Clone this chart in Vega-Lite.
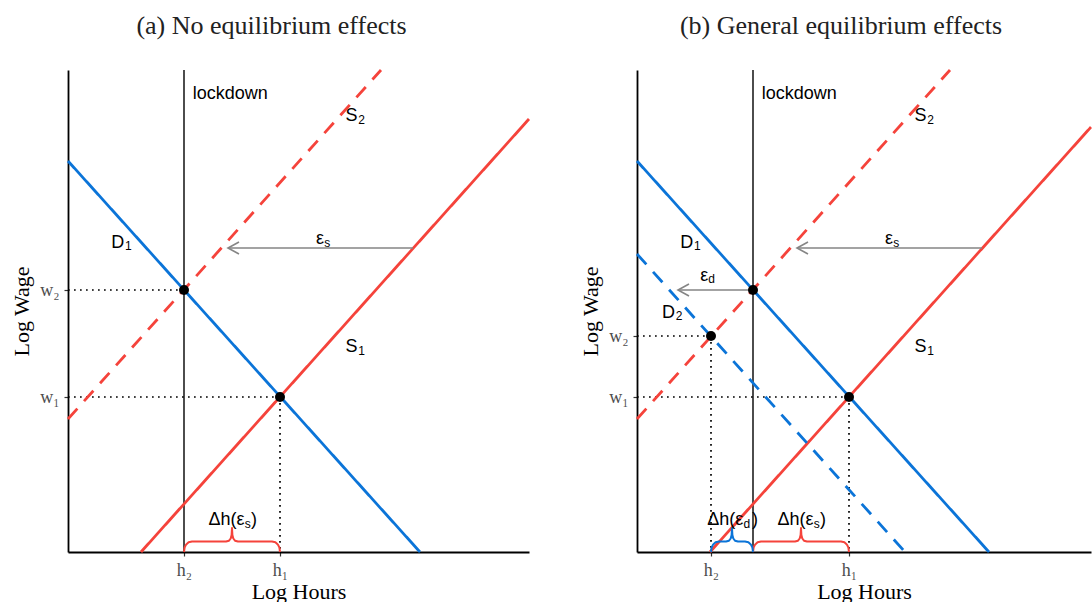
{
  "$schema": "https://vega.github.io/schema/vega-lite/v6.json",
  "padding": {"left": 10, "top": 13, "right": 0, "bottom": 0},
  "background": "white",
  "datasets": {
    "curves": [
      {"panel": "a", "id": "D1", "kind": "demand", "phase": "pre", "x": 0, "y": 391},
      {"panel": "a", "id": "D1", "kind": "demand", "phase": "pre", "x": 352, "y": 0},
      {"panel": "a", "id": "S1", "kind": "supply", "phase": "pre", "x": 73, "y": 0},
      {"panel": "a", "id": "S1", "kind": "supply", "phase": "pre", "x": 461, "y": 433},
      {"panel": "a", "id": "S2", "kind": "supply", "phase": "post", "x": 0, "y": 133},
      {"panel": "a", "id": "S2", "kind": "supply", "phase": "post", "x": 313, "y": 482},
      {"panel": "b", "id": "D1", "kind": "demand", "phase": "pre", "x": 0, "y": 391},
      {"panel": "b", "id": "D1", "kind": "demand", "phase": "pre", "x": 352, "y": 0},
      {"panel": "b", "id": "S1", "kind": "supply", "phase": "pre", "x": 73, "y": 0},
      {"panel": "b", "id": "S1", "kind": "supply", "phase": "pre", "x": 454, "y": 425},
      {"panel": "b", "id": "S2", "kind": "supply", "phase": "post", "x": 0, "y": 133},
      {"panel": "b", "id": "S2", "kind": "supply", "phase": "post", "x": 313, "y": 482},
      {"panel": "b", "id": "D2", "kind": "demand", "phase": "post", "x": 0, "y": 298},
      {"panel": "b", "id": "D2", "kind": "demand", "phase": "post", "x": 268, "y": 0}
    ],
    "dotted": [
      {"panel": "a", "id": "w2", "x": 0, "y": 262},
      {"panel": "a", "id": "w2", "x": 116, "y": 262},
      {"panel": "a", "id": "w1", "x": 0, "y": 155},
      {"panel": "a", "id": "w1", "x": 212, "y": 155},
      {"panel": "a", "id": "h1", "x": 212, "y": 155},
      {"panel": "a", "id": "h1", "x": 212, "y": 0},
      {"panel": "b", "id": "w2", "x": 0, "y": 216},
      {"panel": "b", "id": "w2", "x": 74, "y": 216},
      {"panel": "b", "id": "h2", "x": 74, "y": 216},
      {"panel": "b", "id": "h2", "x": 74, "y": 0},
      {"panel": "b", "id": "w1", "x": 0, "y": 155},
      {"panel": "b", "id": "w1", "x": 212, "y": 155},
      {"panel": "b", "id": "h1", "x": 212, "y": 155},
      {"panel": "b", "id": "h1", "x": 212, "y": 0}
    ],
    "lockdown": [
      {"panel": "a", "x": 116, "y": 0, "y2": 482},
      {"panel": "b", "x": 116, "y": 0, "y2": 482}
    ],
    "points": [
      {"panel": "a", "x": 116, "y": 262},
      {"panel": "a", "x": 212, "y": 155},
      {"panel": "b", "x": 116, "y": 262},
      {"panel": "b", "x": 74, "y": 216},
      {"panel": "b", "x": 212, "y": 155}
    ],
    "arrows": [
      {"panel": "a", "id": "es", "x": 345, "y": 304},
      {"panel": "a", "id": "es", "x": 160, "y": 304},
      {"panel": "b", "id": "es", "x": 345, "y": 304},
      {"panel": "b", "id": "es", "x": 160, "y": 304},
      {"panel": "b", "id": "ed", "x": 116, "y": 262},
      {"panel": "b", "id": "ed", "x": 41, "y": 262}
    ],
    "heads": [
      {"panel": "a", "x": 160, "y": 304},
      {"panel": "b", "x": 160, "y": 304},
      {"panel": "b", "x": 41, "y": 262}
    ],
    "braces": [
      {"panel": "a", "id": "s", "kind": "supply", "i": 0, "x": 116, "y": 0},
      {"panel": "a", "id": "s", "kind": "supply", "i": 1, "x": 116.6, "y": 4.5},
      {"panel": "a", "id": "s", "kind": "supply", "i": 2, "x": 118.2, "y": 7.6},
      {"panel": "a", "id": "s", "kind": "supply", "i": 3, "x": 120.6, "y": 9.8},
      {"panel": "a", "id": "s", "kind": "supply", "i": 4, "x": 124, "y": 10.5},
      {"panel": "a", "id": "s", "kind": "supply", "i": 5, "x": 158, "y": 10.5},
      {"panel": "a", "id": "s", "kind": "supply", "i": 6, "x": 161, "y": 11.3},
      {"panel": "a", "id": "s", "kind": "supply", "i": 7, "x": 162.7, "y": 13.5},
      {"panel": "a", "id": "s", "kind": "supply", "i": 8, "x": 163.6, "y": 17},
      {"panel": "a", "id": "s", "kind": "supply", "i": 9, "x": 164, "y": 24},
      {"panel": "a", "id": "s", "kind": "supply", "i": 10, "x": 164.4, "y": 17},
      {"panel": "a", "id": "s", "kind": "supply", "i": 11, "x": 165.3, "y": 13.5},
      {"panel": "a", "id": "s", "kind": "supply", "i": 12, "x": 167, "y": 11.3},
      {"panel": "a", "id": "s", "kind": "supply", "i": 13, "x": 170, "y": 10.5},
      {"panel": "a", "id": "s", "kind": "supply", "i": 14, "x": 204, "y": 10.5},
      {"panel": "a", "id": "s", "kind": "supply", "i": 15, "x": 207.4, "y": 9.8},
      {"panel": "a", "id": "s", "kind": "supply", "i": 16, "x": 209.8, "y": 7.6},
      {"panel": "a", "id": "s", "kind": "supply", "i": 17, "x": 211.4, "y": 4.5},
      {"panel": "a", "id": "s", "kind": "supply", "i": 18, "x": 212, "y": 0},
      {"panel": "b", "id": "s", "kind": "supply", "i": 0, "x": 116, "y": 0},
      {"panel": "b", "id": "s", "kind": "supply", "i": 1, "x": 116.6, "y": 4.5},
      {"panel": "b", "id": "s", "kind": "supply", "i": 2, "x": 118.2, "y": 7.6},
      {"panel": "b", "id": "s", "kind": "supply", "i": 3, "x": 120.6, "y": 9.8},
      {"panel": "b", "id": "s", "kind": "supply", "i": 4, "x": 124, "y": 10.5},
      {"panel": "b", "id": "s", "kind": "supply", "i": 5, "x": 158, "y": 10.5},
      {"panel": "b", "id": "s", "kind": "supply", "i": 6, "x": 161, "y": 11.3},
      {"panel": "b", "id": "s", "kind": "supply", "i": 7, "x": 162.7, "y": 13.5},
      {"panel": "b", "id": "s", "kind": "supply", "i": 8, "x": 163.6, "y": 17},
      {"panel": "b", "id": "s", "kind": "supply", "i": 9, "x": 164, "y": 24},
      {"panel": "b", "id": "s", "kind": "supply", "i": 10, "x": 164.4, "y": 17},
      {"panel": "b", "id": "s", "kind": "supply", "i": 11, "x": 165.3, "y": 13.5},
      {"panel": "b", "id": "s", "kind": "supply", "i": 12, "x": 167, "y": 11.3},
      {"panel": "b", "id": "s", "kind": "supply", "i": 13, "x": 170, "y": 10.5},
      {"panel": "b", "id": "s", "kind": "supply", "i": 14, "x": 204, "y": 10.5},
      {"panel": "b", "id": "s", "kind": "supply", "i": 15, "x": 207.4, "y": 9.8},
      {"panel": "b", "id": "s", "kind": "supply", "i": 16, "x": 209.8, "y": 7.6},
      {"panel": "b", "id": "s", "kind": "supply", "i": 17, "x": 211.4, "y": 4.5},
      {"panel": "b", "id": "s", "kind": "supply", "i": 18, "x": 212, "y": 0},
      {"panel": "b", "id": "d", "kind": "demand", "i": 0, "x": 74, "y": 0},
      {"panel": "b", "id": "d", "kind": "demand", "i": 1, "x": 74.6, "y": 4.5},
      {"panel": "b", "id": "d", "kind": "demand", "i": 2, "x": 76.2, "y": 7.6},
      {"panel": "b", "id": "d", "kind": "demand", "i": 3, "x": 78.6, "y": 9.8},
      {"panel": "b", "id": "d", "kind": "demand", "i": 4, "x": 82, "y": 10.5},
      {"panel": "b", "id": "d", "kind": "demand", "i": 5, "x": 89, "y": 10.5},
      {"panel": "b", "id": "d", "kind": "demand", "i": 6, "x": 92, "y": 11.3},
      {"panel": "b", "id": "d", "kind": "demand", "i": 7, "x": 93.7, "y": 13.5},
      {"panel": "b", "id": "d", "kind": "demand", "i": 8, "x": 94.6, "y": 17},
      {"panel": "b", "id": "d", "kind": "demand", "i": 9, "x": 95, "y": 24},
      {"panel": "b", "id": "d", "kind": "demand", "i": 10, "x": 95.4, "y": 17},
      {"panel": "b", "id": "d", "kind": "demand", "i": 11, "x": 96.3, "y": 13.5},
      {"panel": "b", "id": "d", "kind": "demand", "i": 12, "x": 98, "y": 11.3},
      {"panel": "b", "id": "d", "kind": "demand", "i": 13, "x": 101, "y": 10.5},
      {"panel": "b", "id": "d", "kind": "demand", "i": 14, "x": 108, "y": 10.5},
      {"panel": "b", "id": "d", "kind": "demand", "i": 15, "x": 111.4, "y": 9.8},
      {"panel": "b", "id": "d", "kind": "demand", "i": 16, "x": 113.8, "y": 7.6},
      {"panel": "b", "id": "d", "kind": "demand", "i": 17, "x": 115.4, "y": 4.5},
      {"panel": "b", "id": "d", "kind": "demand", "i": 18, "x": 116, "y": 0}
    ],
    "labels": [
      {"panel": "a", "role": "tail", "x": 124.7, "y": 452.7, "text": "lockdown"},
      {"panel": "a", "role": "base", "x": 289.5, "y": 431, "text": "S"},
      {"panel": "a", "role": "sub", "x": 290.3, "y": 427.7, "text": "2"},
      {"panel": "a", "role": "base", "x": 289.5, "y": 200, "text": "S"},
      {"panel": "a", "role": "sub", "x": 290.3, "y": 197, "text": "1"},
      {"panel": "a", "role": "base", "x": 56.3, "y": 304.3, "text": "D"},
      {"panel": "a", "role": "sub", "x": 57, "y": 302, "text": "1"},
      {"panel": "a", "role": "base", "x": 256, "y": 307.7, "text": "ε"},
      {"panel": "a", "role": "sub", "x": 256.3, "y": 305.3, "text": "s"},
      {"panel": "a", "role": "base", "x": 176.5, "y": 27.5, "text": "Δh(ε"},
      {"panel": "a", "role": "sub", "x": 176.8, "y": 24.5, "text": "s"},
      {"panel": "a", "role": "tail", "x": 183, "y": 27.5, "text": ")"},
      {"panel": "b", "role": "tail", "x": 124.7, "y": 452.7, "text": "lockdown"},
      {"panel": "b", "role": "base", "x": 289.5, "y": 431, "text": "S"},
      {"panel": "b", "role": "sub", "x": 290.3, "y": 427.7, "text": "2"},
      {"panel": "b", "role": "base", "x": 289.5, "y": 200, "text": "S"},
      {"panel": "b", "role": "sub", "x": 290.3, "y": 197, "text": "1"},
      {"panel": "b", "role": "base", "x": 56.3, "y": 304.3, "text": "D"},
      {"panel": "b", "role": "sub", "x": 57, "y": 302, "text": "1"},
      {"panel": "b", "role": "base", "x": 256, "y": 307.7, "text": "ε"},
      {"panel": "b", "role": "sub", "x": 256.3, "y": 305.3, "text": "s"},
      {"panel": "b", "role": "base", "x": 176.5, "y": 27.5, "text": "Δh(ε"},
      {"panel": "b", "role": "sub", "x": 176.8, "y": 24.5, "text": "s"},
      {"panel": "b", "role": "tail", "x": 183, "y": 27.5, "text": ")"},
      {"panel": "b", "role": "base", "x": 38, "y": 234.3, "text": "D"},
      {"panel": "b", "role": "sub", "x": 38.7, "y": 231.7, "text": "2"},
      {"panel": "b", "role": "base", "x": 71.3, "y": 271.5, "text": "ε"},
      {"panel": "b", "role": "sub", "x": 71.3, "y": 269.3, "text": "d"},
      {"panel": "b", "role": "base", "x": 106.3, "y": 27.5, "text": "Δh(ε"},
      {"panel": "b", "role": "sub", "x": 106.5, "y": 24.5, "text": "d"},
      {"panel": "b", "role": "tail", "x": 115, "y": 27.5, "text": ")"}
    ]
  },
  "hconcat": [
    {
      "width": 461,
      "height": 482,
      "title": {"text": "(a) No equilibrium effects", "dx": -27},
      "encoding": {
        "x": {"field": "x", "type": "quantitative", "scale": {"domain": [0, 461], "nice": false, "zero": false},
              "axis": {"title": "Log Hours", "values": [116, 212], "labelExpr": "datum.value == 116 ? 'h₂' : 'h₁'"}},
        "y": {"field": "y", "type": "quantitative", "scale": {"domain": [0, 482], "nice": false, "zero": false},
              "axis": {"title": "Log Wage", "values": [155, 262], "labelExpr": "datum.value == 262 ? 'w₂' : 'w₁'"}}
      },
      "layer": [
        {"data": {"name": "dotted"}, "transform": [{"filter": "datum.panel == 'a'"}],
         "mark": {"type": "line", "color": "black", "strokeWidth": 1.7, "strokeDash": [1.7, 4.3]},
         "encoding": {"detail": {"field": "id"}}},
        {"data": {"name": "lockdown"}, "transform": [{"filter": "datum.panel == 'a'"}],
         "mark": {"type": "rule", "color": "black", "strokeWidth": 1.4},
         "encoding": {"y2": {"field": "y2"}}},
        {"data": {"name": "curves"}, "transform": [{"filter": "datum.panel == 'a'"}],
         "mark": {"type": "line", "strokeWidth": 2.8},
         "encoding": {"detail": {"field": "id"},
                      "color": {"field": "kind", "type": "nominal", "scale": {"domain": ["demand", "supply"], "range": ["#0b74d8", "#f5433b"]}, "legend": null},
                      "strokeDash": {"field": "phase", "type": "nominal", "scale": {"domain": ["pre", "post"], "range": [[1, 0], [14, 10]]}, "legend": null}}},
        {"data": {"name": "braces"}, "transform": [{"filter": "datum.panel == 'a'"}],
         "mark": {"type": "line", "strokeWidth": 2, "strokeJoin": "round"},
         "encoding": {"detail": {"field": "id"}, "order": {"field": "i", "type": "quantitative"},
                      "color": {"field": "kind", "type": "nominal", "legend": null}}},
        {"data": {"name": "arrows"}, "transform": [{"filter": "datum.panel == 'a'"}],
         "mark": {"type": "line", "color": "#858585", "strokeWidth": 1.6},
         "encoding": {"detail": {"field": "id"}}},
        {"data": {"name": "heads"}, "transform": [{"filter": "datum.panel == 'a'"}],
         "mark": {"type": "point", "shape": "M1.1,-0.6L0,0L1.1,0.6", "size": 400, "filled": false, "color": "#858585", "strokeWidth": 1.6, "opacity": 1},
         "encoding": {}},
        {"data": {"name": "points"}, "transform": [{"filter": "datum.panel == 'a'"}],
         "mark": {"type": "circle", "color": "black", "size": 100, "opacity": 1},
         "encoding": {}},
        {"data": {"name": "labels"}, "transform": [{"filter": "datum.panel == 'a' && datum.role == 'base'"}],
         "mark": {"type": "text", "align": "right", "baseline": "alphabetic", "font": "Liberation Sans", "fontSize": 18, "color": "black"},
         "encoding": {"text": {"field": "text"}}},
        {"data": {"name": "labels"}, "transform": [{"filter": "datum.panel == 'a' && datum.role == 'sub'"}],
         "mark": {"type": "text", "align": "left", "baseline": "alphabetic", "font": "Liberation Sans", "fontSize": 12, "color": "black"},
         "encoding": {"text": {"field": "text"}}},
        {"data": {"name": "labels"}, "transform": [{"filter": "datum.panel == 'a' && datum.role == 'tail'"}],
         "mark": {"type": "text", "align": "left", "baseline": "alphabetic", "font": "Liberation Sans", "fontSize": 18, "color": "black"},
         "encoding": {"text": {"field": "text"}}}
      ]
    },
    {
      "width": 454,
      "height": 482,
      "title": {"text": "(b) General equilibrium effects", "dx": -23},
      "encoding": {
        "x": {"field": "x", "type": "quantitative", "scale": {"domain": [0, 454], "nice": false, "zero": false},
              "axis": {"title": "Log Hours", "values": [74, 212], "labelExpr": "datum.value == 74 ? 'h₂' : 'h₁'"}},
        "y": {"field": "y", "type": "quantitative", "scale": {"domain": [0, 482], "nice": false, "zero": false},
              "axis": {"title": "Log Wage", "values": [155, 216], "labelExpr": "datum.value == 216 ? 'w₂' : 'w₁'"}}
      },
      "layer": [
        {"data": {"name": "dotted"}, "transform": [{"filter": "datum.panel == 'b'"}],
         "mark": {"type": "line", "color": "black", "strokeWidth": 1.7, "strokeDash": [1.7, 4.3]},
         "encoding": {"detail": {"field": "id"}}},
        {"data": {"name": "lockdown"}, "transform": [{"filter": "datum.panel == 'b'"}],
         "mark": {"type": "rule", "color": "black", "strokeWidth": 1.4},
         "encoding": {"y2": {"field": "y2"}}},
        {"data": {"name": "curves"}, "transform": [{"filter": "datum.panel == 'b'"}],
         "mark": {"type": "line", "strokeWidth": 2.8},
         "encoding": {"detail": {"field": "id"},
                      "color": {"field": "kind", "type": "nominal", "scale": {"domain": ["demand", "supply"], "range": ["#0b74d8", "#f5433b"]}, "legend": null},
                      "strokeDash": {"field": "phase", "type": "nominal", "scale": {"domain": ["pre", "post"], "range": [[1, 0], [14, 10]]}, "legend": null}}},
        {"data": {"name": "braces"}, "transform": [{"filter": "datum.panel == 'b'"}],
         "mark": {"type": "line", "strokeWidth": 2, "strokeJoin": "round"},
         "encoding": {"detail": {"field": "id"}, "order": {"field": "i", "type": "quantitative"},
                      "color": {"field": "kind", "type": "nominal", "legend": null}}},
        {"data": {"name": "arrows"}, "transform": [{"filter": "datum.panel == 'b'"}],
         "mark": {"type": "line", "color": "#858585", "strokeWidth": 1.6},
         "encoding": {"detail": {"field": "id"}}},
        {"data": {"name": "heads"}, "transform": [{"filter": "datum.panel == 'b'"}],
         "mark": {"type": "point", "shape": "M1.1,-0.6L0,0L1.1,0.6", "size": 400, "filled": false, "color": "#858585", "strokeWidth": 1.6, "opacity": 1},
         "encoding": {}},
        {"data": {"name": "points"}, "transform": [{"filter": "datum.panel == 'b'"}],
         "mark": {"type": "circle", "color": "black", "size": 100, "opacity": 1},
         "encoding": {}},
        {"data": {"name": "labels"}, "transform": [{"filter": "datum.panel == 'b' && datum.role == 'base'"}],
         "mark": {"type": "text", "align": "right", "baseline": "alphabetic", "font": "Liberation Sans", "fontSize": 18, "color": "black"},
         "encoding": {"text": {"field": "text"}}},
        {"data": {"name": "labels"}, "transform": [{"filter": "datum.panel == 'b' && datum.role == 'sub'"}],
         "mark": {"type": "text", "align": "left", "baseline": "alphabetic", "font": "Liberation Sans", "fontSize": 12, "color": "black"},
         "encoding": {"text": {"field": "text"}}},
        {"data": {"name": "labels"}, "transform": [{"filter": "datum.panel == 'b' && datum.role == 'tail'"}],
         "mark": {"type": "text", "align": "left", "baseline": "alphabetic", "font": "Liberation Sans", "fontSize": 18, "color": "black"},
         "encoding": {"text": {"field": "text"}}}
      ]
    }
  ],
  "spacing": 44,
  "resolve": {"scale": {"x": "independent", "y": "independent"}},
  "config": {
    "view": {"stroke": null},
    "axis": {"grid": false, "domainColor": "black", "domainWidth": 1.8, "tickColor": "#333333", "tickSize": 4, "tickWidth": 1.2,
             "labelFont": "Liberation Serif", "labelFontSize": 18, "labelColor": "#4d4d4d", "labelFlush": false, "labelPadding": 5,
             "titleFont": "Liberation Serif", "titleFontSize": 22, "titleFontWeight": "normal", "titleColor": "black", "titlePadding": 6},
    "axisX": {"titlePadding": 2},
    "title": {"font": "Liberation Serif", "fontSize": 26, "fontWeight": "normal", "color": "#222222", "anchor": "middle", "offset": 25}
  }
}
